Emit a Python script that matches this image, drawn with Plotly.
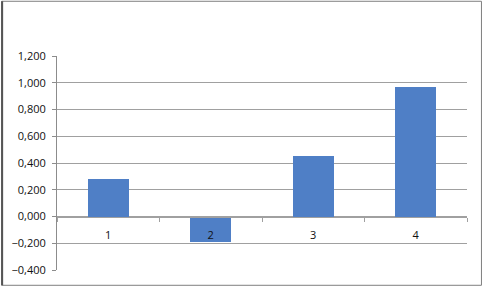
import plotly.graph_objects as go

categories = ["1", "2", "3", "4"]
values = [0.282, -0.191, 0.454, 0.969]
y_ticks = [-0.4, -0.2, 0.0, 0.2, 0.4, 0.6, 0.8, 1.0, 1.2]

W, H = 482, 289
L, R, T, B = 56, 15, 56, 16
pw, ph = W - L - R, H - T - B

fig = go.Figure(go.Bar(
    x=categories, y=values, width=0.40,
    marker=dict(color="#4f7fc6", line=dict(width=0)),
))

def px_x(p):
    return (p - L) / pw

def px_y(p):
    return (H - B - p) / ph

fig.update_layout(
    width=W, height=H,
    margin=dict(l=L, r=R, t=T, b=B),
    paper_bgcolor="white", plot_bgcolor="white",
    separators=",.",
    showlegend=False,
    font=dict(family="Open Sans, DejaVu Sans", size=11, color="#111"),
    bargap=0,
    yaxis=dict(
        range=[-0.4, 1.2], tickvals=y_ticks, tickformat=".3f",
        showgrid=True, gridcolor="#a0a0a0", gridwidth=1,
        showline=True, linecolor="#8c8c8c", linewidth=1,
        ticks="outside", ticklen=4, tickcolor="#8c8c8c",
        zeroline=False, fixedrange=True, ticklabelstandoff=4,
    ),
    xaxis=dict(
        anchor="free", position=0.25,
        showline=True, linecolor="#a0a0a0", linewidth=1,
        ticks="outside", ticklen=4, tickcolor="#a0a0a0",
        tickson="boundaries", showgrid=False, zeroline=False,
        ticklabelstandoff=8,
    ),
    shapes=[dict(
        type="rect", xref="paper", yref="paper",
        x0=px_x(0.5), x1=px_x(W - 0.5), y0=px_y(H - 0.5), y1=px_y(0.5),
        line=dict(color="#7f7f7f", width=1), layer="above",
    ), dict(
        type="line", xref="paper", yref="paper",
        x0=px_x(1), x1=px_x(1), y0=px_y(H - 0.5), y1=px_y(0.5),
        line=dict(color="#555", width=2),
    )],
)

fig.write_html("out.html")
